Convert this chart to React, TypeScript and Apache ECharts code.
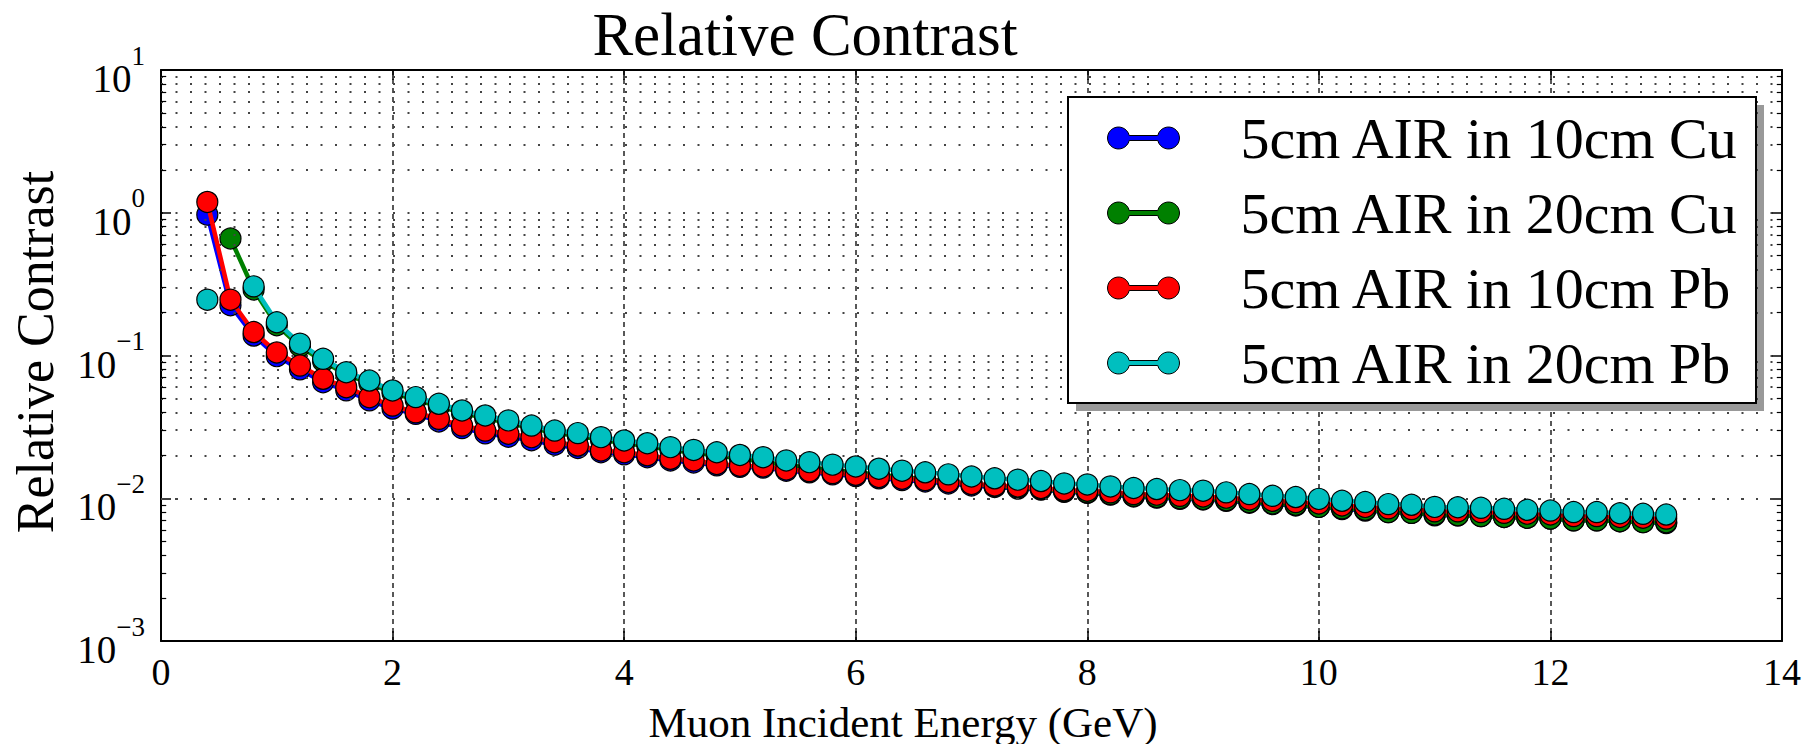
import { useEffect, useRef } from "react";
import * as echarts from "echarts";

const energies = [0.4,0.6,0.8,1.0,1.2,1.4,1.6,1.8,2.0,2.2,2.4,2.6,2.8,3.0,3.2,3.4,3.6,3.8,4.0,4.2,4.4,4.6,4.8,5.0,5.2,5.4,5.6,5.8,6.0,6.2,6.4,6.6,6.8,7.0,7.2,7.4,7.6,7.8,8.0,8.2,8.4,8.6,8.8,9.0,9.2,9.4,9.6,9.8,10.0,10.2,10.4,10.6,10.8,11.0,11.2,11.4,11.6,11.8,12.0,12.2,12.4,12.6,12.8,13.0];

const air10Cu = [0.97,0.225,0.138,0.099,0.080,0.065,0.057,0.0485,0.0425,0.039,0.0345,0.031,0.0285,0.0270,0.0255,0.0237,0.0225,0.0210,0.0203,0.0194,0.0184,0.0178,0.0170,0.0166,
  0.0164,0.0156,0.0152,0.0147,0.0143,0.0138,0.0134,0.0131,0.0127,0.0123,
  0.0120,0.0117,0.0115,0.0111,0.0109,0.0106,0.0103,0.0101,0.0099,0.0098,
  0.0096,0.0093,0.0091,0.0089,0.0087,0.0084,0.0082,0.0080,0.0079,0.0076,
  0.0076,0.0075,0.0074,0.0073,0.0072,0.0070,0.0070,0.0069,0.0068,0.0067];

const air20Cu = [null,0.66,0.29,0.163,0.116,0.091,0.0735,0.064,0.0547,0.049,0.044,0.0396,0.0365,0.0337,0.031,0.0286,0.0274,0.0257,0.0243,0.0232,0.0218,0.0208,0.0199,0.0190,
  0.0180,0.0170,0.0164,0.0157,0.0152,0.0146,0.0141,0.0136,0.0131,0.0126,
  0.0122,0.0119,0.0116,0.0112,0.0110,0.0107,0.0104,0.0102,0.0100,0.0099,
  0.0097,0.0094,0.0092,0.0090,0.0087,0.0085,0.0083,0.0080,0.0079,0.0077,
  0.0076,0.0075,0.0074,0.0073,0.0072,0.0070,0.0070,0.0069,0.0068,0.0068];

const air10Pb = [1.19,0.246,0.146,0.105,0.085,0.0687,0.060,0.051,0.0446,0.040,0.036,0.0323,0.0298,0.0283,0.0268,0.0247,0.0234,0.0216,0.0210,0.0200,0.0189,0.0184,0.0174,0.0169,
  0.0167,0.0159,0.0155,0.0150,0.0146,0.0141,0.0137,0.0134,0.0130,0.0126,
  0.0123,0.0121,0.0118,0.0114,0.0113,0.0110,0.0107,0.0106,0.0104,0.0103,
  0.0101,0.0098,0.0096,0.0094,0.0092,0.0089,0.0087,0.0085,0.0084,0.0081,
  0.0081,0.0080,0.0079,0.0078,0.0077,0.0075,0.0075,0.0074,0.0073,0.0072];

const air20Pb = [0.246,null,0.305,0.171,0.121,0.0948,0.0764,0.0668,0.0569,0.0511,0.0459,0.0412,0.038,0.0351,0.0323,0.0298,0.0286,0.0268,0.0254,0.0243,0.0228,0.0218,0.021,0.0201,
  0.0194,0.0184,0.0179,0.0172,0.0167,0.0161,0.0156,0.0152,0.0147,0.0142,
  0.0138,0.0135,0.0132,0.0127,0.0125,0.0121,0.0118,0.0116,0.0114,0.0113,
  0.0110,0.0107,0.0104,0.0102,0.0099,0.0096,0.0094,0.0091,0.0090,0.0087,
  0.00865,0.00857,0.00843,0.0083,0.0082,0.0080,0.0080,0.00785,0.00778,0.00769];

const seriesNames = ["5cm AIR in 10cm Cu", "5cm AIR in 20cm Cu", "5cm AIR in 10cm Pb", "5cm AIR in 20cm Pb"];
const seriesValues = [air10Cu, air20Cu, air10Pb, air20Pb];
const seriesColors = ["#0000ff", "#008000", "#ff0000", "#00bfbf"];

const decades = [0.001, 0.01, 0.1, 1];
const minorMultipliers = [2, 3, 4, 5, 6, 7, 8, 9];

const titleText = "Relative Contrast";
const xAxisTitle = "Muon Incident Energy (GeV)";
const yAxisTitle = "Relative Contrast";

const FONT = '"Liberation Serif", "DejaVu Serif", serif';

const dumbbell =
  "path://M21.71,8.5L50.29,8.5A11,11,0,1,1,50.29,13.5L21.71,13.5A11,11,0,1,1,21.71,8.5Z";

export default function App() {
  const ref = useRef<HTMLDivElement>(null);

  useEffect(() => {
    if (!ref.current) return;
    const chart = echarts.init(ref.current, undefined, { renderer: "svg" });

    const minorValues: number[] = [];
    decades.forEach((d) => minorMultipliers.forEach((m) => minorValues.push(d * m)));

    const dotted = { color: "#444", width: 2.2, type: [2, 12.5] as number[] };
    const markData: any[] = [];
    minorValues.forEach((v) => {
      markData.push({ yAxis: v, lineStyle: dotted });
      markData.push([
        { coord: [0, v], lineStyle: { color: "#000", width: 1.2, type: "solid" } },
        { coord: [0.045, v] },
      ]);
      markData.push([
        { coord: [13.955, v], lineStyle: { color: "#000", width: 1.2, type: "solid" } },
        { coord: [14, v] },
      ]);
    });

    const axisLine = { show: true, onZero: false, lineStyle: { color: "#000", width: 2 } };
    const axisTick = { show: true, inside: true, length: 10, lineStyle: { color: "#000", width: 1.5 } };

    const series: any[] = [
      {
        type: "line",
        name: "grid-helper",
        data: [],
        silent: true,
        z: 1,
        markLine: {
          silent: true,
          symbol: ["none", "none"],
          label: { show: false },
          emphasis: { disabled: true },
          animation: false,
          data: markData,
        },
      },
    ];
    seriesNames.forEach((name, i) => {
      series.push({
        type: "line",
        name,
        data: energies.map((x, j) => [x, seriesValues[i][j] == null ? "-" : seriesValues[i][j]]),
        symbol: "circle",
        symbolSize: 21,
        showSymbol: true,
        connectNulls: false,
        z: 3 + i,
        lineStyle: { color: seriesColors[i], width: 4.5 },
        itemStyle: { color: seriesColors[i], borderColor: "#000", borderWidth: 1.2 },
        emphasis: { disabled: true },
      });
    });

    const option: any = {
      animation: false,
      backgroundColor: "#fff",
      grid: { left: 161, top: 70, width: 1621, height: 571 },
      xAxis: [
        {
          type: "value",
          min: 0,
          max: 14,
          interval: 2,
          position: "bottom",
          axisLine,
          axisTick,
          axisLabel: { fontFamily: FONT, fontSize: 38, color: "#000", margin: 12 },
          splitLine: { show: true, lineStyle: { color: "#222", width: 1.5, type: [5, 4] } },
        },
        {
          type: "value",
          min: 0,
          max: 14,
          interval: 2,
          position: "top",
          axisLine,
          axisTick,
          axisLabel: { show: false },
          splitLine: { show: false },
        },
      ],
      yAxis: [
        {
          type: "log",
          logBase: 10,
          min: 0.001,
          max: 10,
          position: "left",
          axisLine,
          axisTick,
          axisLabel: {
            margin: 16,
            formatter: (v: number) => {
              const e = Math.round(Math.log10(v));
              return "{b|10}{s|" + (e < 0 ? "\u2212" + -e : String(e)) + "}";
            },
            rich: {
              b: { fontFamily: FONT, fontSize: 39, color: "#000", lineHeight: 56, verticalAlign: "bottom" },
              s: { fontFamily: FONT, fontSize: 27, color: "#000", lineHeight: 27, verticalAlign: "top" },
            },
          },
          splitLine: { show: true, lineStyle: dotted },
        },
        {
          type: "log",
          logBase: 10,
          min: 0.001,
          max: 10,
          position: "right",
          axisLine,
          axisTick,
          axisLabel: { show: false },
          splitLine: { show: false },
        },
      ],
      legend: {
        data: seriesNames,
        orient: "vertical",
        left: 1068,
        top: 97,
        padding: [12, 20, 12, 39],
        itemGap: 17,
        itemWidth: 72,
        itemHeight: 22,
        icon: dumbbell,
        selectedMode: false,
        z: 10,
        itemStyle: { borderColor: "#000", borderWidth: 1 },
        textStyle: { fontFamily: FONT, fontSize: 58, color: "#000", lineHeight: 58, padding: [0, 0, 0, 56] },
      },
      graphic: [
        {
          type: "rect",
          z: 5,
          shape: { x: 1076, y: 105, width: 688, height: 306 },
          style: { fill: "#999" },
        },
        {
          type: "rect",
          z: 6,
          shape: { x: 1068, y: 97, width: 688, height: 306 },
          style: { fill: "#fff", stroke: "#000", lineWidth: 2 },
        },
        {
          type: "text",
          x: 805,
          y: 34,
          z: 6,
          style: { text: titleText, font: "61px " + FONT, fill: "#000", textAlign: "center", textVerticalAlign: "middle" },
        },
        {
          type: "text",
          x: 903,
          y: 722,
          z: 6,
          style: { text: xAxisTitle, font: "43px " + FONT, fill: "#000", textAlign: "center", textVerticalAlign: "middle" },
        },
        {
          type: "text",
          x: 35,
          y: 352,
          rotation: Math.PI / 2,
          z: 6,
          style: { text: yAxisTitle, font: "52px " + FONT, fill: "#000", textAlign: "center", textVerticalAlign: "middle" },
        },
      ],
      series,
    };

    chart.setOption(option);
    return () => chart.dispose();
  }, []);

  return (
    <div
      ref={ref}
      style={{ position: "absolute", left: 0, top: 0, width: 1804, height: 744 }}
    />
  );
}
